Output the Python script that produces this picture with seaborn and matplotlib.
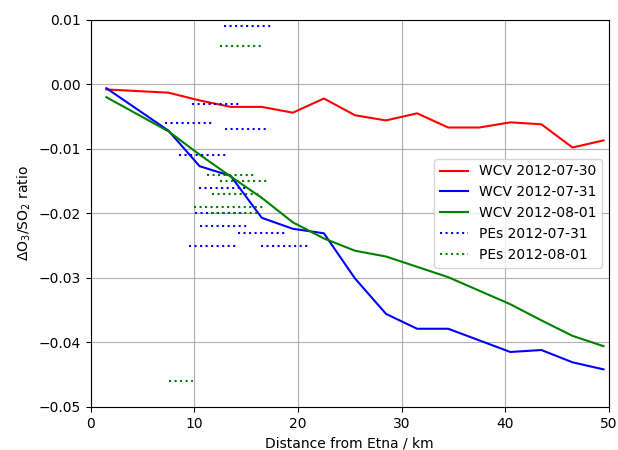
import numpy as np
import pandas as pd
import matplotlib
matplotlib.use("Agg")
import matplotlib.pyplot as plt
import seaborn as sns

# distance along the plume (km)
dist = [1.5, 7.5, 10.5, 13.5, 16.5, 19.5, 22.5, 25.5, 28.5, 31.5,
        34.5, 37.5, 40.5, 43.5, 46.5, 49.5]

# WCV ratios per day
wcv_0730 = [-0.0008, -0.0013, -0.0025, -0.0035, -0.0035, -0.0044, -0.0022, -0.0048,
            -0.0056, -0.0045, -0.0067, -0.0067, -0.0059, -0.0062, -0.0098, -0.0087]
wcv_0731 = [-0.0006, -0.0072, -0.0127, -0.0142, -0.0207, -0.0224, -0.0231, -0.0301,
            -0.0356, -0.0379, -0.0379, -0.0397, -0.0415, -0.0412, -0.0431, -0.0442]
wcv_0801 = [-0.0020, -0.0073, -0.0109, -0.0143, -0.0176, -0.0214, -0.0239, -0.0258,
            -0.0267, -0.0283, -0.0299, -0.0320, -0.0341, -0.0366, -0.0390, -0.0406]

# plume estimates: ratio with distance range
pe_0731_y = [0.009, -0.003, -0.006, -0.007, -0.011, -0.016, -0.020, -0.022, -0.023, -0.025, -0.025]
pe_0731_x0 = [12.9, 9.8, 7.2, 13.0, 8.5, 10.4, 10.1, 10.5, 14.2, 9.5, 16.4]
pe_0731_x1 = [17.4, 14.5, 11.8, 17.1, 13.1, 15.1, 14.8, 15.3, 18.9, 14.2, 21.0]

pe_0801_y = [0.006, -0.014, -0.015, -0.017, -0.019, -0.020, -0.046]
pe_0801_x0 = [12.5, 11.2, 12.5, 11.7, 10.0, 11.6, 7.5]
pe_0801_x1 = [16.6, 15.9, 17.1, 16.3, 16.8, 16.2, 9.9]

fig, ax = plt.subplots(figsize=(6.18, 4.5), dpi=100)
fig.subplots_adjust(left=0.147, right=0.985, bottom=0.096, top=0.956)

sns.lineplot(x=dist, y=wcv_0730, color='r', label='WCV 2012-07-30', ax=ax)
sns.lineplot(x=dist, y=wcv_0731, color='b', label='WCV 2012-07-31', ax=ax)
sns.lineplot(x=dist, y=wcv_0801, color='g', label='WCV 2012-08-01', ax=ax)

ax.hlines(pe_0731_y, pe_0731_x0, pe_0731_x1, colors='b', linestyles=':', linewidth=1.5,
          label='PEs 2012-07-31')
ax.hlines(pe_0801_y, pe_0801_x0, pe_0801_x1, colors='g', linestyles=':', linewidth=1.5,
          label='PEs 2012-08-01')

ax.set_xlim(0, 50)
ax.set_ylim(-0.05, 0.01)
ax.set_xlabel('Distance from Etna / km')
ax.set_ylabel(r'$\Delta$O$_3$/SO$_2$ ratio')
ax.grid(True)
ax.legend(loc='center right')

fig.savefig('out.png', dpi=100)
